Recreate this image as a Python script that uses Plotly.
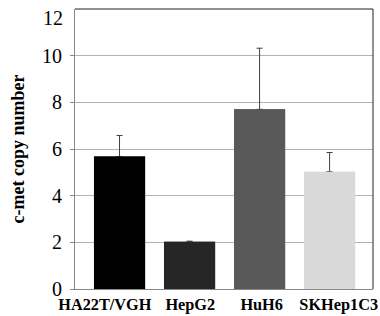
import plotly.graph_objects as go

categories = ["HA22T/VGH", "HepG2", "HuH6", "SKHep1C3"]
values = [5.68, 2.02, 7.7, 5.03]
errors = [0.9, 0.03, 2.62, 0.82]
colors = ["#000000", "#262626", "#595959", "#d9d9d9"]
y_ticks = [0, 2, 4, 6, 8, 10]
y_top = 12

SERIF = "Times New Roman, Liberation Serif, serif"
label_offsets = [-0.21, 0.01, 0.03, 0.13]  # label placement tweak (style)
xs = list(range(len(categories)))

fig = go.Figure()
# bars carrying the upward error bars
fig.add_trace(go.Bar(
    x=xs, y=values,
    marker=dict(color=colors, line=dict(width=0)),
    width=0.73,
    error_y=dict(type="data", array=errors, arrayminus=[0]*len(errors),
                 symmetric=False, color="#404040", thickness=1, width=3),
    hoverinfo="skip",
))
# same bars drawn again on top so no cap shows on the bar tops
fig.add_trace(go.Bar(
    x=xs, y=values,
    marker=dict(color=colors, line=dict(width=0)),
    width=0.73,
))

fig.update_layout(
    width=380, height=316,
    margin=dict(l=75, r=7, t=9, b=27),
    plot_bgcolor="white", paper_bgcolor="white",
    showlegend=False, barmode="overlay",
    font=dict(family=SERIF, color="black"),
    xaxis=dict(
        tickmode="array",
        tickvals=[i + o for i, o in zip(xs, label_offsets)],
        ticktext=[f"<b>{c}</b>" for c in categories],
        range=[-0.636, 3.62], showgrid=False, zeroline=False, automargin=False,
        showline=True, linecolor="#888888", linewidth=1, tickangle=0,
        tickfont=dict(size=16.3, family=SERIF, color="black"), ticks="", ticklabelstandoff=0,
    ),
    yaxis=dict(
        range=[0, 12], tickvals=y_ticks, showgrid=True, gridcolor="#b3b3b3", gridwidth=1,
        zeroline=False, showline=True, linecolor="#888888", linewidth=1, automargin=False,
        tickfont=dict(size=20, family=SERIF, color="black"),
        ticks="outside", ticklen=4, tickcolor="#888888", ticklabelstandoff=4,
        title=dict(text="<b>c-met copy number</b>", font=dict(size=18, family=SERIF), standoff=12),
    ),
    annotations=[dict(x=0, xref="paper", y=y_top, yref="y", text=str(y_top), showarrow=False,
                      xanchor="right", yanchor="middle", xshift=-10, yshift=-9,
                      font=dict(size=20, family=SERIF, color="black"))],
    shapes=[
        dict(type="line", xref="paper", yref="paper", x0=0, x1=1, y0=1, y1=1, line=dict(color="#222222", width=1)),
        dict(type="line", xref="paper", yref="paper", x0=1, x1=1, y0=0, y1=1, line=dict(color="#222222", width=1)),
    ],
)

fig.write_html("out.html", config={"displayModeBar": False},
               post_script="document.body.style.margin='0';")
